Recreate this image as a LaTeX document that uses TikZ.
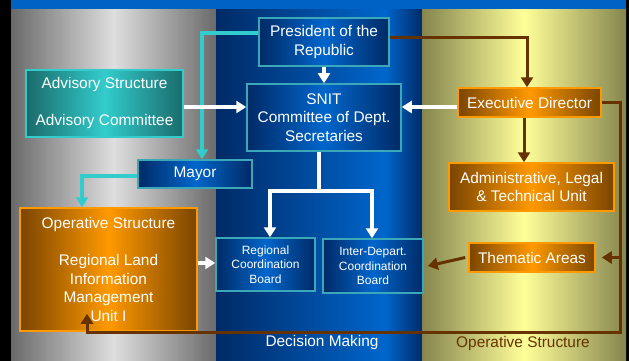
\documentclass[tikz,border=0pt]{standalone}
\usepackage{fontspec}
\setmainfont{Liberation Sans}
\usetikzlibrary{arrows.meta}
\usetikzlibrary{positioning}
\definecolor{mteal}{HTML}{33CCCC}
\definecolor{mdteal}{HTML}{1A6B6B}
\definecolor{mblue}{HTML}{0066CC}
\definecolor{mnavy}{HTML}{002A66}
\definecolor{mborder}{HTML}{3AA8B8}
\definecolor{morange}{HTML}{FF9900}
\definecolor{mdorange}{HTML}{7A4500}
\definecolor{mbrown}{HTML}{663300}
\definecolor{mgray}{HTML}{DEDEDE}
\definecolor{mdgray}{HTML}{6A6A6A}
\definecolor{myellow}{HTML}{FFFF99}
\definecolor{molive}{HTML}{85854F}
\definecolor{mtop}{HTML}{0062C4}
\tikzset{box/.style = {draw, line width=1.5pt, text=white, align=center, inner sep=0pt,
                       font=\fontsize{15.4}{18.5}\selectfont}}
\tikzset{bluebox/.style = {box, draw=mborder, left color=mnavy, right color=mnavy, middle color=mblue}}
\tikzset{tealbox/.style = {box, draw=mteal, left color=mdteal, right color=mdteal, middle color=mteal}}
\tikzset{orangebox/.style = {box, draw=morange, left color=mdorange, right color=mdorange, middle color=morange}}
\tikzset{small/.style = {font=\fontsize{12}{14.5}\selectfont}}
\tikzset{warr/.style = {draw=white, line width=3.5pt, -{Triangle[length=10pt, width=12pt]}}}
\tikzset{wline/.style = {draw=white, line width=3.5pt}}
\tikzset{tarr/.style = {draw=mteal, line width=3.5pt, -{Triangle[length=10pt, width=12pt]}}}
\tikzset{barr/.style = {draw=mbrown, line width=3pt, -{Triangle[length=10pt, width=12pt]}}}

\begin{document}
\begin{tikzpicture}[x=1pt, y=-1pt]
    \useasboundingbox (0, 0) rectangle (629, 361);
    \fill (0, 0) rectangle (629, 361);
    \shade [left color=mdgray, right color=mdgray, middle color=mgray] (11, 9) rectangle (216.5, 361);
    \shade [left color=mnavy, right color=mblue] (216, 9) rectangle (385.5, 361);
    \shade [left color=mblue, right color=mnavy] (385, 9) rectangle (422.5, 361);
    \shade [left color=molive, right color=molive, middle color=myellow] (422, 9) rectangle (626, 361);
    \fill [mtop] (11, 0) rectangle (626, 9);

    \node (pres) at (324, 42) [bluebox, minimum width=130pt, minimum height=48pt] {President of the\\Republic};
    \node (snit) at (324, 117.5) [bluebox, minimum width=154pt, minimum height=67pt] {SNIT\\Committee of Dept.\\Secretaries};
    \node (adv) at (104.5, 103.5) [tealbox, minimum width=157pt, minimum height=67pt] {Advisory Structure\\[18.5pt]Advisory Committee};
    \node (mayor) at (195, 174) [bluebox, minimum width=114pt, minimum height=28pt] {Mayor};
    \node (exec) at (529.5, 102.5) [orangebox, minimum width=143pt, minimum height=29pt] {Executive Director};
    \node (admin) at (531.5, 187) [orangebox, minimum width=165pt, minimum height=48pt] {Administrative, Legal\\\& Technical Unit};
    \node (oper) at (108.5, 269.5) [orangebox, minimum width=177pt, minimum height=123pt] {Operative Structure\\[18.5pt]Regional Land\\Information\\Management\\Unit I};
    \node (rcb) at (265.5, 264.5) [bluebox, small, minimum width=99pt, minimum height=53pt] {Regional\\Coordination\\Board};
    \node (idcb) at (373, 266) [bluebox, small, minimum width=100pt, minimum height=54pt] {Inter-Depart.\\Coordination\\Board};
    \node (them) at (532, 257.5) [orangebox, minimum width=126pt, minimum height=29pt] {Thematic Areas};

    \node (dm) at (322, 343) [text=white, font=\fontsize{15.4}{18.5}\selectfont] {Decision Making};
    \node (os) at (523, 344) [text=mbrown, font=\fontsize{15.4}{18.5}\selectfont] {Operative Structure};

    \draw [tarr] ([yshift=9pt]pres.west) -| ([xshift=7pt]mayor.north);
    \draw [tarr] ([yshift=-2pt]mayor.west) -| ([xshift=-26.5pt]oper.north);

    \draw [warr] ([yshift=-3.5pt]adv.east) -- ([yshift=-3.5pt]adv.east -| snit.west);
    \draw [warr] (pres.south) -- (snit.north);
    \draw [warr] ([yshift=-4.5pt]exec.west) -- ([yshift=-4.5pt]exec.west -| snit.east);
    \draw [wline] ([xshift=-5pt]snit.south) -- ++(0, 39) coordinate (split);
    \draw [warr] (split) -| ([xshift=4.5pt]rcb.north);
    \draw [warr] (split) -| ([xshift=-1pt]idcb.north);
    \draw [warr] ([yshift=6.5pt]oper.east) -- ([yshift=6.5pt]oper.east -| rcb.west);

    \coordinate (loop) at (620, 332);
    \draw [barr] ([yshift=4pt]pres.east) -| ([xshift=-2.5pt]exec.north);
    \draw [barr] ([xshift=-5.5pt]exec.south) -- ([xshift=-5.5pt]exec.south |- admin.north);
    \draw [barr] (exec.east) -| (loop) -| ([xshift=-21.5pt, yshift=18pt]oper.south);
    \draw [barr] (loop |- them.east) -- ([xshift=6pt]them.east);
    \draw [barr] ([xshift=-3pt]them.west) -- ([xshift=4pt]idcb.east);
\end{tikzpicture}
\end{document}
